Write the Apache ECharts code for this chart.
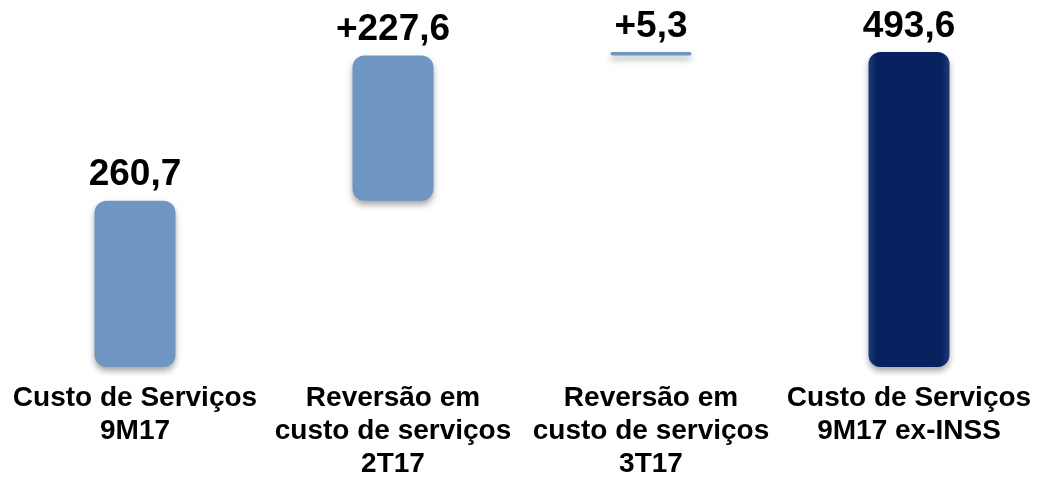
<!DOCTYPE html>
<html>
<head>
<meta charset="utf-8">
<script src="https://cdn.jsdelivr.net/npm/echarts@6/dist/echarts.min.js"></script>
<style>
  html, body { margin: 0; padding: 0; background: #ffffff; }
  #chart { width: 1038px; height: 479px; }
</style>
</head>
<body>
<div id="chart"></div>
<script>
// categorias e valores (R$ milhões)
const categories = [
  "Custo de Serviços\n9M17",
  "Reversão em\ncusto de serviços\n2T17",
  "Reversão em\ncusto de serviços\n3T17",
  "Custo de Serviços\n9M17 ex-INSS"
];
const values = [260.7, 227.6, 5.3, 493.6];
const kinds = ["total", "delta", "delta", "total"];

// base invisivel da cascata
let acc = 0;
const base = values.map((v, i) => {
  if (kinds[i] === "total") { acc = v; return 0; }
  const b = acc;
  acc += v;
  return b;
});

const lightBlue = "#6f95c3";
const darkBlue = new echarts.graphic.LinearGradient(0, 0, 1, 0, [
  { offset: 0, color: "#1b3b7c" },
  { offset: 0.1, color: "#07225f" },
  { offset: 0.9, color: "#07225f" },
  { offset: 1, color: "#1b3b7c" }
]);

const fmt = (v, i) => {
  const s = v.toFixed(1).replace(".", ",");
  return kinds[i] === "delta" ? "+" + s : s;
};

const myChart = echarts.init(document.getElementById("chart"));
myChart.setOption({
  animation: false,
  grid: { left: 6, right: 0, top: 48, bottom: 112, outerBoundsMode: "none" },
  xAxis: {
    type: "category",
    data: categories,
    axisLine: { show: false },
    axisTick: { show: false },
    axisLabel: {
      interval: 0,
      hideOverlap: false,
      margin: 15,
      color: "#000000",
      fontFamily: "Liberation Sans, Arial, sans-serif",
      fontWeight: "bold",
      fontSize: 28,
      lineHeight: 33
    }
  },
  yAxis: {
    type: "value",
    min: 0,
    max: 500,
    show: false,
    splitLine: { show: false }
  },
  series: [
    {
      name: "base",
      type: "bar",
      stack: "w",
      barWidth: 81,
      data: base,
      itemStyle: { color: "transparent" },
      silent: true
    },
    {
      name: "valor",
      type: "bar",
      stack: "w",
      barWidth: 81,
      data: values.map((v, i) => ({
        value: v,
        itemStyle: { color: i === values.length - 1 ? darkBlue : lightBlue }
      })),
      itemStyle: {
        borderRadius: 12,
        shadowColor: "rgba(0,0,0,0.35)",
        shadowBlur: 6,
        shadowOffsetY: 4
      },
      label: {
        show: true,
        position: "top",
        distance: 7,
        color: "#000000",
        fontFamily: "Liberation Sans, Arial, sans-serif",
        fontWeight: "bold",
        fontSize: 37,
        formatter: (p) => fmt(p.value, p.dataIndex)
      }
    }
  ]
});
</script>
</body>
</html>
